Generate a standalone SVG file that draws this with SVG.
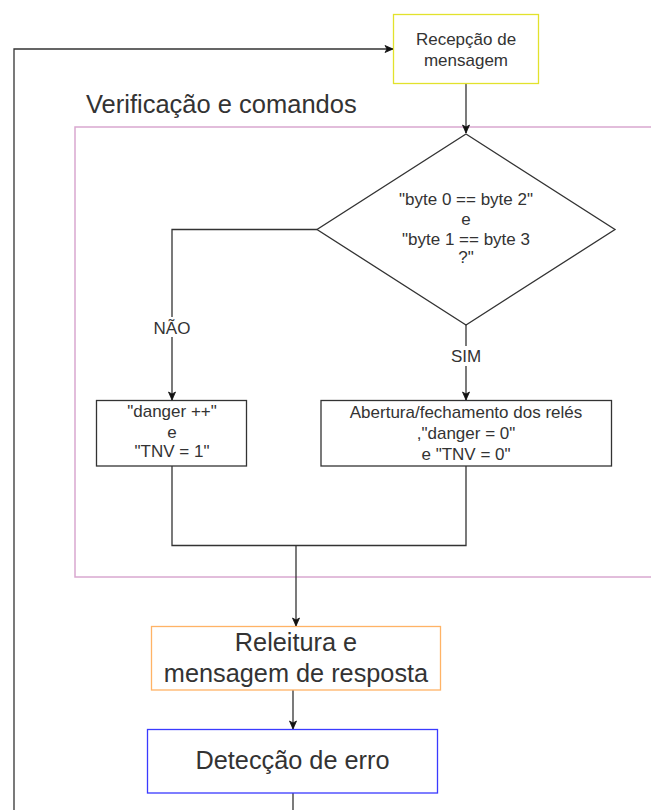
<svg xmlns="http://www.w3.org/2000/svg" width="651" height="810" viewBox="0 0 651 810">
  <style>
    .lbl { font-family: "Liberation Sans", Arial, sans-serif; fill: #333333; text-anchor: middle; }
    .sm { font-size: 17px; }
    .lg { font-size: 25.3px; }
    .edge { fill: none; stroke: #333333; stroke-width: 1.3; }
    .box { fill: #ffffff; stroke-width: 1.3; }
  </style>
  <defs>
    <marker id="arrow" markerUnits="userSpaceOnUse" markerWidth="10" markerHeight="10" refX="9" refY="4.5" orient="auto">
      <path d="M1,1 L9,4.5 L1,8 L3,4.5 z" fill="#111111" stroke="#111111" stroke-width="0.8"/>
    </marker>
  </defs>
  <rect width="651" height="810" fill="#ffffff"/>

  <!-- container: verification and commands -->
  <g id="container">
    <rect x="75" y="127" width="600" height="450" fill="none" stroke="#d9a8d0" stroke-width="1.5"/>
    <text class="lbl" x="86" y="113" font-size="25.5" style="text-anchor:start">Verificação e comandos</text>
  </g>

  <!-- connectors -->
  <g id="connectors">
    <path class="edge" d="M14,810 L14,49 L393,49" marker-end="url(#arrow)"/>
    <path class="edge" d="M466,84 L466,133" marker-end="url(#arrow)"/>
    <path class="edge" d="M317,229.5 L172,229.5 L172,400" marker-end="url(#arrow)"/>
    <path class="edge" d="M466,325 L466,400" marker-end="url(#arrow)"/>
    <path class="edge" d="M172,466 L172,545.5 L466,545.5 L466,466"/>
    <path class="edge" d="M296,545.5 L296,626" marker-end="url(#arrow)"/>
    <path class="edge" d="M293,690 L293,729" marker-end="url(#arrow)"/>
    <path class="edge" d="M293,793 L293,810"/>
    <rect x="152" y="317" width="40" height="20" fill="#ffffff"/>
    <text class="lbl sm" x="172" y="334">NÃO</text>
    <rect x="448" y="346" width="36" height="20" fill="#ffffff"/>
    <text class="lbl sm" x="466" y="362">SIM</text>
  </g>

  <g id="reception">
    <rect class="box" x="393.5" y="14.5" width="145" height="69" stroke="#e2e22c"/>
    <text class="lbl sm" x="466" y="45">Recepção de</text>
    <text class="lbl sm" x="466" y="66">mensagem</text>
  </g>

  <g id="decision">
    <path class="box" d="M466,134 L615,229.5 L466,325 L317,229.5 z" stroke="#333333"/>
    <text class="lbl sm" x="466" y="205">"byte 0 == byte 2"</text>
    <text class="lbl sm" x="466" y="225">e</text>
    <text class="lbl sm" x="466" y="244.5">"byte 1 == byte 3</text>
    <text class="lbl sm" x="466" y="263">?"</text>
  </g>

  <g id="danger">
    <rect class="box" x="96.5" y="400.5" width="150" height="65.5" stroke="#333333"/>
    <text class="lbl sm" x="172" y="417">"danger ++"</text>
    <text class="lbl sm" x="172" y="438">e</text>
    <text class="lbl sm" x="172" y="457">"TNV = 1"</text>
  </g>

  <g id="relays">
    <rect class="box" x="321" y="400.5" width="290.5" height="65.5" stroke="#333333"/>
    <text class="lbl sm" x="466" y="418">Abertura/fechamento dos relés</text>
    <text class="lbl sm" x="466" y="439">,"danger = 0"</text>
    <text class="lbl sm" x="466" y="460">e "TNV = 0"</text>
  </g>

  <g id="reread">
    <rect class="box" x="151.5" y="626.5" width="289" height="63.5" stroke="#ffb366"/>
    <text class="lbl lg" x="296" y="650.5">Releitura e</text>
    <text class="lbl lg" x="296" y="681.5">mensagem de resposta</text>
  </g>

  <g id="error">
    <rect class="box" x="147.5" y="729.5" width="290" height="63.5" stroke="#3a3aff"/>
    <text class="lbl lg" x="292.5" y="769">Detecção de erro</text>
  </g>
</svg>
